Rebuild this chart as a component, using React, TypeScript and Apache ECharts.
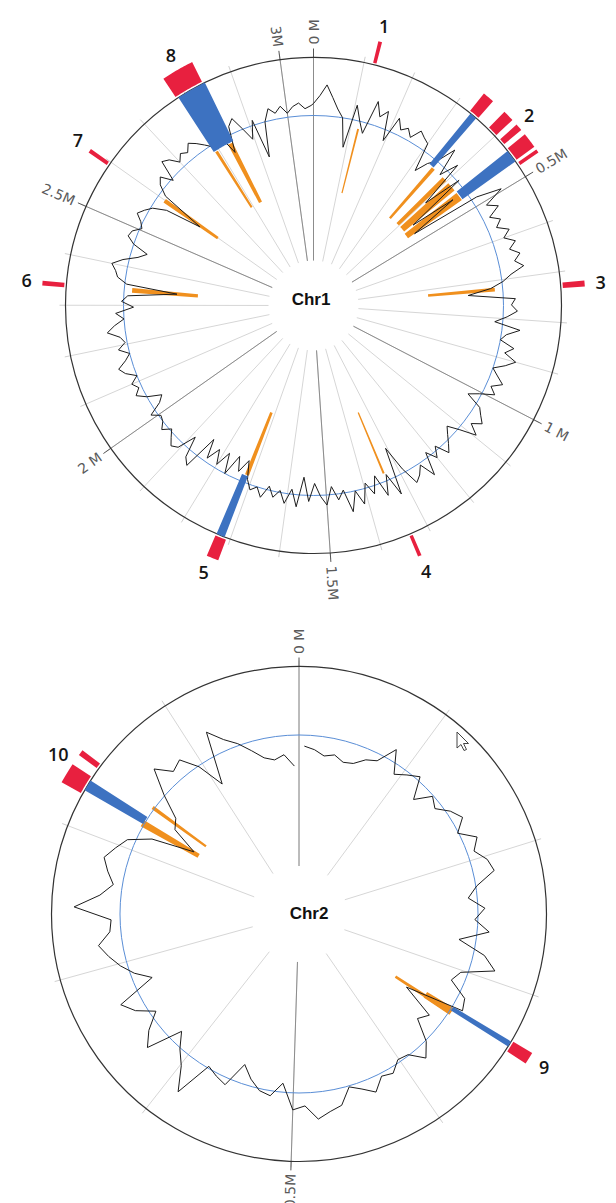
import React, { useEffect, useRef } from "react";
import * as echarts from "echarts";

// ---------------- data ----------------
const CHR1_LEN = 3.066; // Mb
const CHR2_LEN = 0.99; // Mb

const chr1TickPos = [0, 0.5, 1, 1.5, 2, 2.5, 3];
const chr1TickLabels = ["0 M", "0.5M", "1 M", "1.5M", "2 M", "2.5M", "3M"];
const chr2TickPos = [0, 0.5];
const chr2TickLabels = ["0 M", "0.5M"];

const chr1FeatureIds = ["1", "2", "3", "4", "5", "6", "7", "8"];
const chr1FeaturePos = [0.1209, 0.4131, 0.7265, 1.3371, 1.7238, 2.3421, 2.5984, 2.813];
const chr2FeatureIds = ["9", "10"];
const chr2FeaturePos = [0.3355, 0.8349];

// [start, end] in Mb
const chr1Red = [
  [0.1175, 0.1243], [0.3304, 0.3517], [0.3798, 0.4003], [0.4114, 0.4241],
  [0.4343, 0.4625], [0.4684, 0.4752], [0.7214, 0.7324], [1.3337, 1.3405],
  [1.7076, 1.7297], [2.3353, 2.3438], [2.5908, 2.5984], [2.7807, 2.8403],
];
const chr1Blue = [
  [0.3347, 0.3492], [0.4386, 0.4641], [1.7118, 1.7289], [2.7849, 2.8446],
];
// [start, end, depth]
const chr1Orange = [
  [0.1184, 0.1235, 116], [0.3458, 0.356, 116], [0.385, 0.3986, 117],
  [0.4071, 0.4326, 117], [0.4412, 0.465, 116], [0.7188, 0.729, 115],
  [1.3371, 1.3426, 116], [1.7101, 1.7212, 115], [2.3336, 2.3464, 116],
  [2.5933, 2.6044, 117], [2.7875, 2.796, 116], [2.8275, 2.8412, 116],
];

const chr2Red = [[0.3322, 0.3394], [0.8223, 0.8346], [0.841, 0.8445]];
const chr2Blue = [[0.3328, 0.3366], [0.825, 0.8322]];
const chr2Orange = [
  [0.3336, 0.3405, 150], [0.3366, 0.3399, 115],
  [0.8223, 0.8283, 116], [0.8401, 0.8432, 115],
];

// signal track (sampled every CHR1_STEP Mb from 0)
const CHR1_STEP = 0.015;
const chr1Signal = [
  202, 210, 221, 209, 198, 190, 161, 205, 190, 179,
  214, 200, 208, 179, 206, 196, 201, 194, 205, 201,
  198, 169, 182, 190, 210, 182, 201, 152, 192, 128,
  175, 124, 196, 221, 200, 210, 197, 206, 199, 210,
  202, 212, 204, 213, 206, 214, 200, 191, 178, 155,
  202, 198, 204, 194, 182, 208, 195, 190, 205, 197,
  210, 201, 190, 197, 205, 195, 202, 188, 178, 195,
  200, 206, 197, 208, 192, 180, 186, 193, 200, 186,
  196, 185, 208, 192, 200, 205, 186, 160, 208, 184,
  204, 181, 198, 185, 205, 190, 210, 187, 196, 182,
  200, 191, 178, 196, 172, 202, 185, 200, 188, 196,
  186, 199, 190, 195, 186, 168, 182, 168, 190, 170,
  186, 172, 186, 167, 204, 198, 177, 196, 200, 194,
  188, 196, 190, 188, 196, 182, 176, 190, 199, 193,
  198, 190, 200, 205, 196, 190, 200, 192, 196, 208,
  200, 190, 198, 180, 192, 186, 137, 188, 198, 201,
  206, 196, 182, 174, 190, 198, 196, 188, 192, 199,
  194, 188, 175, 138, 184, 195, 200, 188, 209, 205,
  196, 202, 198, 205, 200, 194, 188, 184, 192, 172,
  198, 204, 190, 177, 195, 155, 190, 202, 196, 202,
  194, 200, 203, 197, 200,
];

const CHR2_START = 0.005;
const CHR2_STEP = 0.0099;
const chr2Signal = [
  168, 165, 160, 163, 158, 160, 168, 172, 191, 169,
  176, 183, 162, 178, 172, 183, 190, 178, 194, 186,
  196, 200, 180, 170, 186, 176, 191, 162, 190, 204,
  172, 166, 186, 190, 130, 165, 158, 180, 192, 178,
  176, 185, 182, 194, 186, 180, 196, 200, 206, 192,
  196, 170, 184, 181, 172, 160, 186, 182, 177, 215,
  192, 180, 166, 202, 190, 173, 190, 200, 160, 175,
  186, 195, 203, 190, 188, 225, 200, 188, 196, 203,
  195, 187, 165, 122, 150, 156, 180, 205, 190, 195,
  178, 151, 204, 190, 181, 170, 160, 156, 160, 148,
];

// ---------------- layout ----------------
const L1 = {
  center: [313.5, 305.5], r0: 45, r: 248, base: 190,
  orangeOut: 182, blue: [183, 248], red: [250, 272],
  tickR: 261, idR: 288, label: "Chr1", labelXY: [311, 299], len: CHR1_LEN,
};
const L2 = {
  center: [299, 914], r0: 48, r: 247.5, base: 179,
  orangeOut: 181, blue: [180, 247.5], red: [249.5, 271.5],
  tickR: 260, idR: 289, label: "Chr2", labelXY: [309, 913], len: CHR2_LEN,
};

const C_RED = "#e8203f";
const C_BLUE = "#3d72c1";
const C_ORANGE = "#f0901e";
const C_BASE = "#5a8ed6";
const C_OUTER = "#333333";

function sectorRender(len: number, rIn: number | null, rOut: number, color: string) {
  return (params: any, api: any) => {
    const s = api.value(0);
    const e = api.value(1);
    const inner = rIn == null ? api.value(2) : rIn;
    const n = Math.max(2, Math.ceil((((e - s) / len) * 360) / 0.4));
    const pts: number[][] = [];
    for (let k = 0; k <= n; k++) pts.push(api.coord([rOut, s + ((e - s) * k) / n]));
    for (let k = n; k >= 0; k--) pts.push(api.coord([inner, s + ((e - s) * k) / n]));
    return { type: "polygon", shape: { points: pts }, style: { fill: color } };
  };
}

function circleRender(color: string, width: number) {
  return (params: any, api: any) => {
    const cs = params.coordSys;
    const p = api.coord([api.value(0), 0]);
    const rr = Math.hypot(p[0] - cs.cx, p[1] - cs.cy);
    return {
      type: "circle",
      shape: { cx: cs.cx, cy: cs.cy, r: rr },
      style: { fill: "none", stroke: color, lineWidth: width },
    };
  };
}

function tickLabelRender(len: number, labels: string[], r: number) {
  return (params: any, api: any) => {
    const pos = api.value(0);
    const p = api.coord([r, pos]);
    const th = (pos / len) * 2 * Math.PI;
    const right = th < Math.PI - 0.001;
    const rotation = right ? Math.PI / 2 - th : 1.5 * Math.PI - th;
    return {
      type: "text",
      x: p[0],
      y: p[1],
      rotation,
      style: {
        text: labels[params.dataIndex],
        fill: "#5a5a5a",
        fontSize: 14,
        fontFamily: "DejaVu Sans",
        align: right ? "left" : "right",
        verticalAlign: "middle",
      },
    };
  };
}

function idRender(labels: string[], r: number) {
  return (params: any, api: any) => {
    const p = api.coord([r, api.value(0)]);
    return {
      type: "text",
      x: p[0],
      y: p[1],
      style: {
        text: labels[params.dataIndex],
        fill: "#151515",
        fontSize: 18,
        fontWeight: 600,
        fontFamily: "Open Sans",
        align: "center",
        verticalAlign: "middle",
      },
    };
  };
}

function buildChr(pi: number, cfg: any, tickPos: number[], tickLabels: string[],
  idPos: number[], ids: string[], red: number[][], blue: number[][], orange: number[][],
  line: number[][]) {
  return [
    {
      type: "custom", coordinateSystem: "polar", polarIndex: pi, clip: false, z: 2,
      renderItem: circleRender(C_OUTER, 1.2), data: [[cfg.r, 0]],
    },
    {
      type: "custom", coordinateSystem: "polar", polarIndex: pi, clip: false, z: 2,
      renderItem: sectorRender(cfg.len, null, cfg.orangeOut, C_ORANGE), data: orange,
    },
    {
      type: "custom", coordinateSystem: "polar", polarIndex: pi, clip: false, z: 3,
      renderItem: circleRender(C_BASE, 1), data: [[cfg.base, 0]],
    },
    {
      type: "line", coordinateSystem: "polar", polarIndex: pi, z: 4,
      symbol: "none", showSymbol: false, data: line,
      lineStyle: { color: "#1c1c1c", width: 1 },
    },
    {
      type: "custom", coordinateSystem: "polar", polarIndex: pi, clip: false, z: 5,
      renderItem: sectorRender(cfg.len, cfg.blue[0], cfg.blue[1], C_BLUE), data: blue,
    },
    {
      type: "custom", coordinateSystem: "polar", polarIndex: pi, clip: false, z: 5,
      renderItem: sectorRender(cfg.len, cfg.red[0], cfg.red[1], C_RED), data: red,
    },
    {
      type: "custom", coordinateSystem: "polar", polarIndex: pi, clip: false, z: 6,
      renderItem: tickLabelRender(cfg.len, tickLabels, cfg.tickR),
      data: tickPos.map((p) => [p, 0]),
    },
    {
      type: "custom", coordinateSystem: "polar", polarIndex: pi, clip: false, z: 6,
      renderItem: idRender(ids, cfg.idR), data: idPos.map((p) => [p, 0]),
    },
  ];
}

function angleAxes(pi: number, len: number) {
  return [
    {
      polarIndex: pi, type: "value", min: 0, max: len, interval: 0.1,
      startAngle: 90, clockwise: true,
      axisLine: { show: false },
      axisTick: { show: true, length: 6, lineStyle: { color: "#cfcfcf", width: 1 } },
      axisLabel: { show: false },
      splitLine: { show: true, lineStyle: { color: "#d6d6d6", width: 1 } },
    },
    {
      polarIndex: pi + 1, type: "value", min: 0, max: len, interval: 0.5,
      startAngle: 90, clockwise: true,
      axisLine: { show: false },
      axisTick: { show: true, length: 9, lineStyle: { color: "#555", width: 1 } },
      axisLabel: { show: false },
      splitLine: { show: true, lineStyle: { color: "#8c8c8c", width: 1 } },
    },
  ];
}

function radiusAxes(pi: number, r0: number, r: number) {
  const one = (i: number) => ({
    polarIndex: i, type: "value", min: r0, max: r,
    axisLine: { show: false }, axisTick: { show: false }, axisLabel: { show: false },
    splitLine: { show: false }, splitArea: { show: false },
  });
  return [one(pi), one(pi + 1)];
}

export default function App() {
  const ref = useRef<HTMLDivElement>(null);
  useEffect(() => {
    if (!ref.current) return;
    const chart = echarts.init(ref.current, undefined, { renderer: "svg" });

    const line1 = chr1Signal.map((v, i) => [v, i * CHR1_STEP]);
    line1.push([chr1Signal[0], CHR1_LEN]);
    const line2 = chr2Signal.map((v, i) => [v, CHR2_START + i * CHR2_STEP]);

    const option: any = {
      animation: false,
      backgroundColor: "#ffffff",
      polar: [
        { center: L1.center, radius: [L1.r0, L1.r] },
        { center: L1.center, radius: [L1.r0, L1.r] },
        { center: L2.center, radius: [L2.r0, L2.r] },
        { center: L2.center, radius: [L2.r0, L2.r] },
      ],
      angleAxis: [...angleAxes(0, CHR1_LEN), ...angleAxes(2, CHR2_LEN)],
      radiusAxis: [...radiusAxes(0, L1.r0, L1.r), ...radiusAxes(2, L2.r0, L2.r)],
      series: [
        ...buildChr(0, L1, chr1TickPos, chr1TickLabels, chr1FeaturePos, chr1FeatureIds,
          chr1Red, chr1Blue, chr1Orange, line1),
        ...buildChr(2, L2, chr2TickPos, chr2TickLabels, chr2FeaturePos, chr2FeatureIds,
          chr2Red, chr2Blue, chr2Orange, line2),
      ],
      graphic: [
        {
          type: "text", x: L1.labelXY[0], y: L1.labelXY[1], z: 10,
          style: {
            text: L1.label, fontSize: 17, fontWeight: "bold", fontFamily: "Liberation Sans",
            fill: "#111", align: "center", verticalAlign: "middle",
          },
        },
        {
          type: "text", x: L2.labelXY[0], y: L2.labelXY[1], z: 10,
          style: {
            text: L2.label, fontSize: 17, fontWeight: "bold", fontFamily: "Liberation Sans",
            fill: "#111", align: "center", verticalAlign: "middle",
          },
        },
        {
          type: "polygon", x: 457, y: 732, z: 10,
          shape: { points: [[0, 0], [0, 16], [4, 12.5], [7, 18.5], [9.5, 17.5], [6.5, 11.5], [11.5, 11.5]] },
          style: { fill: "#ffffff", stroke: "#444", lineWidth: 1 },
        },
      ],
    };
    chart.setOption(option);
    return () => chart.dispose();
  }, []);
  return (
    <div
      ref={ref}
      style={{ position: "absolute", left: 0, top: 0, width: 616, height: 1203 }}
    />
  );
}
